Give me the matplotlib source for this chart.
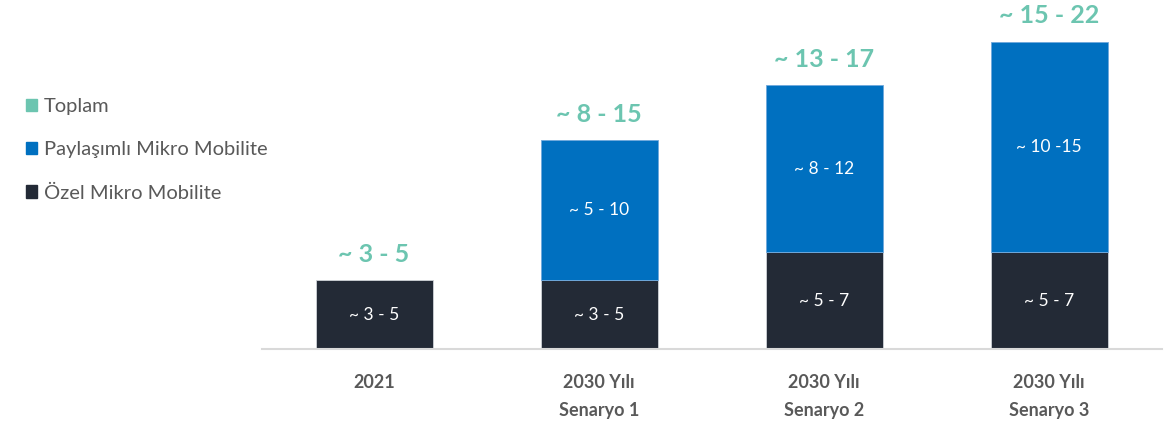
import matplotlib
matplotlib.use("Agg")
import matplotlib.pyplot as plt
from matplotlib.patches import Patch
import numpy as np

plt.rcParams['font.family'] = ['Lato', 'DejaVu Sans']

# categories and stacked segments (bar heights, mn units)
categories = ["2021", "2030 Yılı\nSenaryo 1", "2030 Yılı\nSenaryo 2", "2030 Yılı\nSenaryo 3"]
ozel = [4.0, 4.0, 5.6, 5.6]
paylasimli = [0.0, 8.1, 9.7, 12.2]

ozel_labels = ["~ 3 - 5", "~ 3 - 5", "~ 5 - 7", "~ 5 - 7"]
paylasimli_labels = ["", "~ 5 - 10", "~ 8 - 12", "~ 10 -15"]
toplam_labels = ["~ 3 - 5", "~ 8 - 15", "~ 13 - 17", "~ 15 - 22"]

c_ozel = "#232A36"
c_pay = "#0070C0"
c_top = "#6CC5B0"
c_text = "#595959"

fig = plt.figure(figsize=(11.71, 4.28), dpi=100)
ax = fig.add_axes([261.5 / 1171, 79 / 428, 900 / 1171, 349 / 428])

x = np.arange(len(categories))
w = 0.52
ozel = np.array(ozel)
paylasimli = np.array(paylasimli)

ax.bar(x, ozel, w, color=c_ozel, edgecolor="#cfd3d8", linewidth=0.6)
ax.bar(x[1:], paylasimli[1:], w, bottom=ozel[1:], color=c_pay,
       edgecolor="#6fa8dc", linewidth=0.6)

for i in x:
    ax.text(i, ozel[i] / 2, ozel_labels[i], ha="center", va="center",
            color="white", fontsize=12.5)
    if paylasimli[i] > 0:
        ax.text(i, ozel[i] + paylasimli[i] / 2, paylasimli_labels[i],
                ha="center", va="center", color="white", fontsize=12.5)
    total = ozel[i] + paylasimli[i]
    ax.annotate(toplam_labels[i], (i, total), xytext=(0, 26),
                textcoords="offset pixels", ha="center", va="center",
                color=c_top, fontsize=18, fontweight="bold")

ax.set_xlim(-0.5, 3.5)
ax.set_ylim(0, 349 / 17.25)
ax.set_xticks(x)
ax.set_xticklabels(categories, fontsize=13, fontweight="bold", color=c_text,
                   linespacing=1.8)
ax.tick_params(axis="x", length=0, pad=18)
ax.set_yticks([])
for s in ["top", "right", "left"]:
    ax.spines[s].set_visible(False)
ax.spines["bottom"].set_color("#D9D9D9")
ax.spines["bottom"].set_linewidth(1.5)

handles = [Patch(color=c_top), Patch(color=c_pay), Patch(color=c_ozel)]
names = ["Toplam", "Paylaşımlı Mikro Mobilite", "Özel Mikro Mobilite"]
fig.legend(handles, names, loc="upper left", bbox_to_anchor=(8 / 1171, 1 - 80 / 428),
           frameon=False, fontsize=14.5, labelcolor=c_text, handlelength=0.55,
           handleheight=0.55, handletextpad=0.35, labelspacing=1.3)

fig.savefig("out.png", dpi=100)
